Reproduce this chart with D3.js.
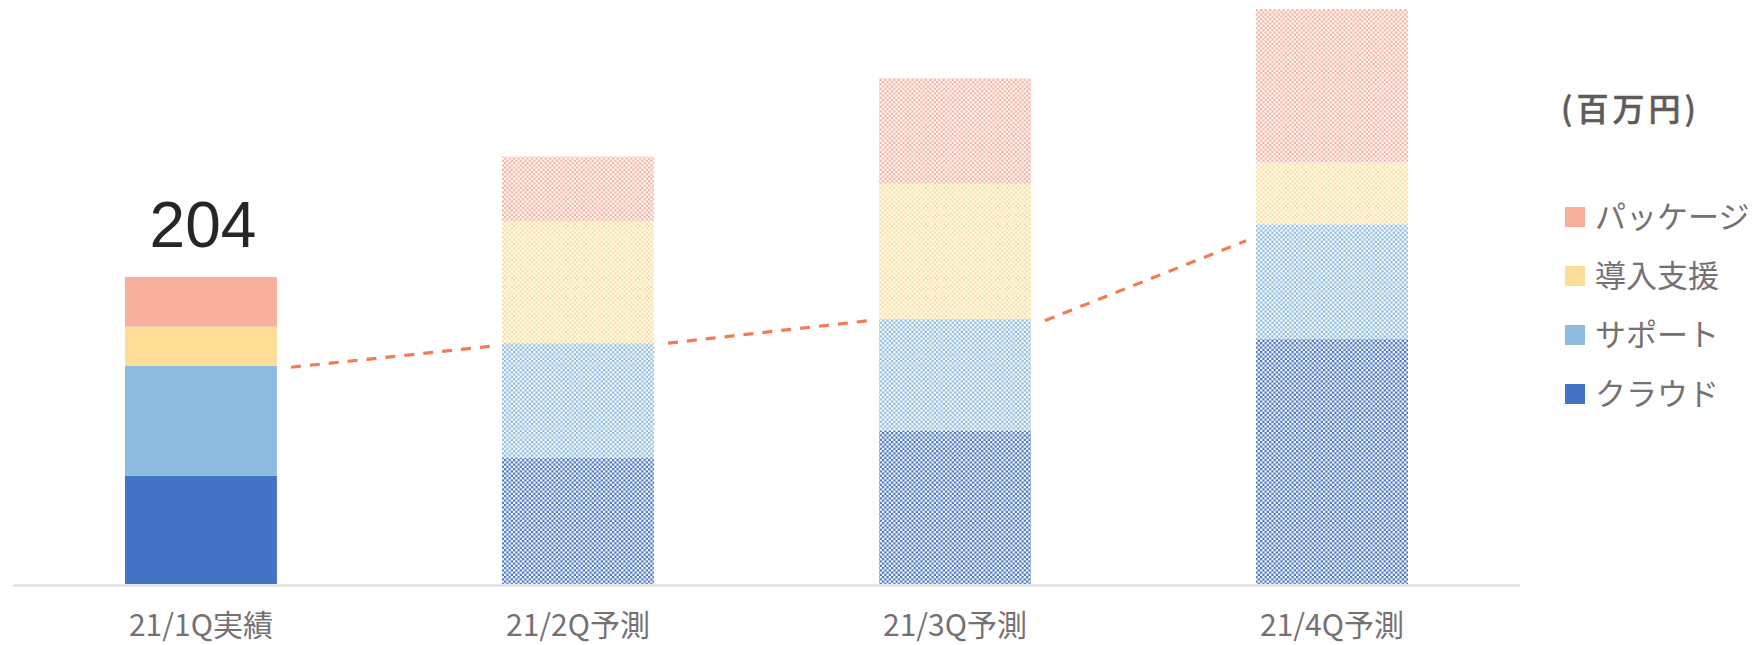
<!DOCTYPE html>
<html>
<head>
<meta charset="utf-8">
<script src="https://cdn.jsdelivr.net/npm/d3@7"></script>
<style>
  html, body { margin: 0; padding: 0; background: #fff; }
  svg { display: block; }
</style>
</head>
<body>
<svg id="chart" width="1762" height="645"></svg>
<script>
// ---- data ----
const categories = ["21/1Q実績", "21/2Q予測", "21/3Q予測", "21/4Q予測"];
const forecast   = [false, true, true, true];
const seriesNames = ["クラウド", "サポート", "導入支援", "パッケージ"]; // bottom -> top
const cloud   = [72, 84, 102, 163];
const support = [73, 76, 74, 76];
const intro   = [26, 81, 90, 41];
const pkg     = [33, 43, 70, 102];
const seriesColors = ["#4472c4", "#8dbbe0", "#fcde97", "#f7b09d"];
const totalLabel = [{cat: "21/1Q実績", value: 204, text: "204"}];
// dashed trend annotation: segment between consecutive bars (start value, end value)
const trendFrom = [144, 160, 175];
const trendTo   = [158, 175, 228];
const unitLabel = "(百万円)";
const legendOrder = ["パッケージ", "導入支援", "サポート", "クラウド"];

// ---- layout ----
const svg = d3.select("#chart");
const x = d3.scaleBand().domain(categories).range([13, 1520])
  .paddingInner(0.597).paddingOuter(0.297);
const y = d3.scaleLinear().domain([0, 388]).range([584, 0]);

const rows = categories.map((c, i) => ({
  cat: c, forecast: forecast[i],
  "クラウド": cloud[i], "サポート": support[i], "導入支援": intro[i], "パッケージ": pkg[i]
}));
const stack = d3.stack().keys(seriesNames)(rows);
const color = d3.scaleOrdinal().domain(seriesNames).range(seriesColors);

// patterns (checkerboard)
const defs = svg.append("defs");
const cell = 2.25;
seriesNames.forEach((s, i) => {
  const p = defs.append("pattern").attr("id", "pat" + i)
    .attr("patternUnits", "userSpaceOnUse").attr("width", cell * 2).attr("height", cell * 2);
  p.append("rect").attr("width", cell * 2).attr("height", cell * 2).attr("fill", "#fff");
  p.append("rect").attr("x", 0).attr("y", 0).attr("width", cell).attr("height", cell).attr("fill", seriesColors[i]);
  p.append("rect").attr("x", cell).attr("y", cell).attr("width", cell).attr("height", cell).attr("fill", seriesColors[i]);
});

// axis
const axis = svg.append("g").attr("transform", `translate(0,${y(0)})`)
  .call(d3.axisBottom(x).tickSize(0).tickPadding(0));
axis.select(".domain").attr("stroke", "#d9d9d9").attr("stroke-width", 2)
  .attr("d", `M13,1.5H1520`);
axis.selectAll(".tick text")
  .attr("y", 52).attr("dy", null)
  .attr("font-family", "'Noto Sans CJK JP', 'Noto Sans', sans-serif")
  .attr("font-size", 30).attr("fill", "#767171");

// trend dashed segments (between bars)
const trendG = svg.append("g");
trendFrom.forEach((v, i) => {
  const x0 = x(categories[i]) + x.bandwidth() + 14;
  const x1 = x(categories[i + 1]) - 10;
  trendG.append("line")
    .attr("x1", x0).attr("y1", y(v)).attr("x2", x1).attr("y2", y(trendTo[i]))
    .attr("stroke", "#f47b52").attr("stroke-width", 3.2)
    .attr("stroke-dasharray", "10,9");
});

// bars
stack.forEach((layer, si) => {
  svg.append("g").selectAll("rect").data(layer).join("rect")
    .attr("x", d => x(d.data.cat))
    .attr("width", x.bandwidth())
    .attr("y", d => y(d[1]))
    .attr("height", d => y(d[0]) - y(d[1]))
    .attr("fill", d => d.data.forecast ? `url(#pat${si})` : seriesColors[si]);
});

// total label
svg.append("g").selectAll("text").data(totalLabel).join("text")
  .attr("x", d => x(d.cat) + x.bandwidth() / 2 + 2)
  .attr("y", 247)
  .attr("text-anchor", "middle")
  .attr("font-family", "'Liberation Sans', Arial, sans-serif")
  .attr("font-size", 64).attr("fill", "#262626")
  .text(d => d.text);

// unit label
svg.append("text").attr("x", 1561).attr("y", 121)
  .attr("font-family", "'Noto Sans CJK JP', sans-serif")
  .attr("font-size", 32).attr("font-weight", 500).attr("letter-spacing", 4)
  .attr("fill", "#5f5b5b").attr("stroke", "#5f5b5b").attr("stroke-width", 0.5)
  .text(unitLabel);

// legend
const lg = svg.append("g").selectAll("g").data(legendOrder).join("g")
  .attr("transform", (d, i) => `translate(1565,${217 + i * 59})`);
lg.append("rect").attr("x", 0).attr("y", -10).attr("width", 20).attr("height", 20)
  .attr("fill", d => color(d));
lg.append("text").attr("x", 30).attr("y", 0).attr("dy", "0.34em")
  .attr("font-family", "'Noto Sans CJK JP', sans-serif")
  .attr("font-size", 31).attr("fill", "#767171")
  .text(d => d);
</script>
</body>
</html>
